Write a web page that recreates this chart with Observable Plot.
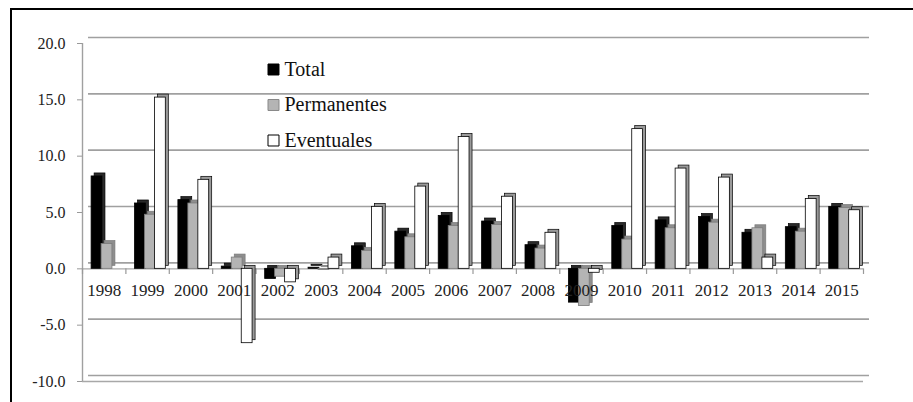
<!DOCTYPE html>
<html><head><meta charset="utf-8">
<script src="https://cdn.jsdelivr.net/npm/d3@7"></script>
<script src="https://cdn.jsdelivr.net/npm/@observablehq/plot@0.6"></script>
<style>
body{margin:0;background:#fff;}
#wrap{position:relative;width:913px;height:402px;overflow:hidden;background:#fff;}
#chart{position:absolute;left:0;top:0;}
#frame{position:absolute;left:10px;top:8px;width:1000px;height:1000px;border-left:2px solid #000;border-top:2px solid #000;pointer-events:none;}
</style></head><body>
<div id="wrap"><div id="chart"></div><div id="frame"></div></div>
<script>
const years = ["1998","1999","2000","2001","2002","2003","2004","2005","2006","2007","2008","2009","2010","2011","2012","2013","2014","2015"];
const total =       [8.2, 5.8, 6.1, 0.2, -0.9, 0.1, 2.0, 3.3, 4.7, 4.2, 2.1, -3.0, 3.8, 4.3, 4.6, 3.2, 3.7, 5.5];
const permanentes = [2.2, 4.8, 5.8, 1.0, -0.7, -0.1, 1.6, 2.8, 3.8, 3.9, 1.8, -3.3, 2.6, 3.6, 4.1, 3.6, 3.3, 5.4];
const eventuales =  [null, 15.2, 7.9, -6.6, -1.2, 1.0, 5.5, 7.3, 11.7, 6.4, 3.2, -0.35, 12.4, 8.9, 8.1, 1.0, 6.2, 5.2];
const seriesNames = ["Total", "Permanentes", "Eventuales"];
const yTicks = [-10, -5, 0, 5, 10, 15, 20];

const seriesValues = [total, permanentes, eventuales];
const front = ["#000000", "#b4b4b4", "#ffffff"];
const side = ["#2a2a2a", "#8e8e8e", "#9a9a9a"];
const edge = ["#000000", "#7a7a7a", "#000000"];
const swatchEdge = ["#000000", "#888888", "#000000"];

const rows = [];
seriesValues.forEach((vals, k) => vals.forEach((v, i) => {
  if (v != null) rows.push({i, k, year: years[i], series: seriesNames[k], value: v});
}));

const x1 = d => d.i + 0.21 + d.k * 0.23;
const x2 = d => x1(d) + 0.25;

const barMarks = [];
seriesNames.forEach((s, k) => {
  const data = rows.filter(d => d.k === k);
  barMarks.push(Plot.rect(data, {x1, x2, y1: 0, y2: "value", fill: side[k], stroke: edge[k], strokeWidth: 0.7, dx: 3, dy: -3}));
  barMarks.push(Plot.rect(data, {x1, x2, y1: 0, y2: "value", fill: front[k], stroke: edge[k], strokeWidth: 0.8}));
});

const boundaries = d3.range(years.length + 1);

const serif = "'Liberation Serif', 'Times New Roman', serif";

const legendMarks = [];
seriesNames.forEach((name, k) => {
  const rowDy = 26 + k * 35.5;
  legendMarks.push(Plot.dot([name], {frameAnchor: "top-left", dx: 191, dy: rowDy, symbol: "square", r: 6.2, fill: front[k], stroke: swatchEdge[k], strokeWidth: 1}));
  legendMarks.push(Plot.text([name], {frameAnchor: "top-left", dx: 202, dy: rowDy, text: d => d, textAnchor: "start", lineAnchor: "middle", fontSize: 20, fontFamily: serif, fill: "#111"}));
});

const chart = Plot.plot({
  width: 913,
  height: 402,
  marginLeft: 82,
  marginRight: 50,
  marginTop: 43,
  marginBottom: 21,
  style: {fontFamily: serif, fontSize: "16px", background: "transparent", color: "#222"},
  x: {domain: [0, years.length], axis: null},
  y: {domain: [-10, 20], axis: null},
  marks: [
    Plot.ruleY(yTicks, {x1: 0, x2: years.length, dx: 6, dy: -6, stroke: "#a0a0a0", strokeWidth: 1.6}),
    Plot.ruleY([0, -10], {x1: 0, x2: years.length, stroke: "#a8a8a8", strokeWidth: 1.4}),
    Plot.ruleX([0], {y1: -10, y2: 20, stroke: "#a0a0a0", strokeWidth: 1.4}),
    Plot.ruleX(boundaries, {y1: 0, y2: -0.5, stroke: "#999", strokeWidth: 1.2}),
    Plot.axisY(yTicks, {tickSize: 5, tickPadding: 12, tickFormat: d => d.toFixed(1), label: null, stroke: "#999", fill: "#222", fontSize: 16}),
    ...barMarks,
    Plot.text(years, {x: (d, i) => i + 0.5, y: 0, dy: 22, text: d => d, fontSize: 17, fill: "#222"}),
    ...legendMarks
  ]
});
document.getElementById("chart").appendChild(chart);
</script>
</body></html>
